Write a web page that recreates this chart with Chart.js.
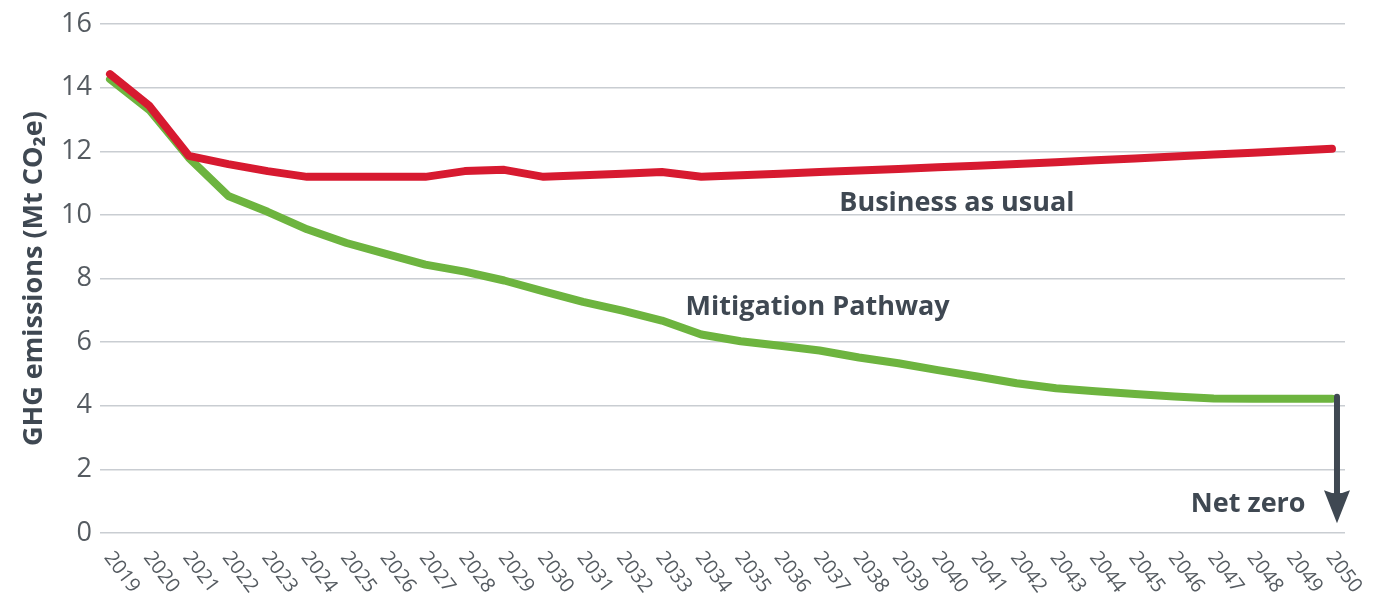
<!DOCTYPE html>
<html>
<head>
<meta charset="utf-8">
<script src="https://cdn.jsdelivr.net/npm/chart.js@4.4.1/dist/chart.umd.min.js"></script>
<style>
  html, body { margin: 0; padding: 0; background: #ffffff; }
  #wrap { width: 1385px; height: 599px; position: relative; }
</style>
</head>
<body>
<div id="wrap"><canvas id="c" width="1385" height="599"></canvas></div>
<script>
// ---- Data ----
const years = [2019,2020,2021,2022,2023,2024,2025,2026,2027,2028,2029,2030,2031,2032,2033,2034,2035,2036,2037,2038,2039,2040,2041,2042,2043,2044,2045,2046,2047,2048,2049,2050];
const businessAsUsual = [14.43,13.43,11.86,11.6,11.38,11.2,11.2,11.2,11.2,11.38,11.42,11.2,11.25,11.3,11.35,11.2,11.25,11.3,11.35,11.4,11.45,11.5,11.55,11.6,11.66,11.72,11.78,11.84,11.9,11.96,12.02,12.08];
const mitigationPathway = [14.27,13.3,11.8,10.6,10.1,9.55,9.12,8.78,8.44,8.22,7.94,7.6,7.27,6.99,6.68,6.24,6.03,5.89,5.74,5.52,5.34,5.12,4.92,4.71,4.55,4.46,4.37,4.29,4.23,4.22,4.22,4.22];
const yTicks = [0,2,4,6,8,10,12,14,16];
const yTitle = 'GHG emissions (Mt CO\u2082e)';
const seriesNames = ['Business as usual', 'Mitigation Pathway'];
const netZeroLabel = 'Net zero';

const toPoints = (vals) => vals.map((v, i) => ({ x: years[i], y: v }));

const TEXT_DARK = '#3f4852';
const TICK_COLOR = '#555b61';

const overlayPlugin = {
  id: 'overlay',
  afterDatasetsDraw(chart) {
    const ctx = chart.ctx;
    const xs = chart.scales.x, ys = chart.scales.y;
    ctx.save();
    // rotated x labels (down-right)
    ctx.fillStyle = TICK_COLOR;
    ctx.font = '20px "Open Sans"';
    ctx.textAlign = 'left';
    ctx.textBaseline = 'middle';
    years.forEach(yr => {
      const px = xs.getPixelForValue(yr);
      ctx.save();
      ctx.translate(px - 2, chart.chartArea.bottom + 21);
      ctx.rotate(53 * Math.PI / 180);
      ctx.fillText(String(yr), 0, 0);
      ctx.restore();
    });
    // series labels
    ctx.fillStyle = TEXT_DARK;
    ctx.font = 'bold 27px "Open Sans"';
    ctx.textBaseline = 'alphabetic';
    ctx.textAlign = 'left';
    ctx.fillText(seriesNames[0], xs.getPixelForValue(2037.5), ys.getPixelForValue(10.13));
    ctx.fillText(seriesNames[1], xs.getPixelForValue(2033.6), ys.getPixelForValue(6.84));
    ctx.textAlign = 'right';
    ctx.fillText(netZeroLabel, xs.getPixelForValue(2049.33), ys.getPixelForValue(0.66));
    // arrow
    const ax = xs.getPixelForValue(years[years.length - 1]) + 5;
    const y0 = ys.getPixelForValue(mitigationPathway[mitigationPathway.length - 1]) - 2;
    const yTip = ys.getPixelForValue(0.31);
    ctx.strokeStyle = TEXT_DARK;
    ctx.fillStyle = TEXT_DARK;
    ctx.lineWidth = 6;
    ctx.lineCap = 'round';
    ctx.beginPath();
    ctx.moveTo(ax, y0);
    ctx.lineTo(ax, yTip - 24);
    ctx.stroke();
    ctx.beginPath();
    ctx.moveTo(ax - 13, yTip - 33);
    ctx.quadraticCurveTo(ax, yTip - 27, ax + 13, yTip - 33);
    ctx.lineTo(ax, yTip);
    ctx.closePath();
    ctx.fill();
    ctx.restore();
  }
};

new Chart(document.getElementById('c'), {
  type: 'line',
  data: {
    datasets: [
      { label: seriesNames[0], data: toPoints(businessAsUsual), borderColor: '#d71a30', borderWidth: 8, pointRadius: 0, tension: 0, borderCapStyle: 'round', borderJoinStyle: 'round', order: 0 },
      { label: seriesNames[1], data: toPoints(mitigationPathway), borderColor: '#6db43f', borderWidth: 8, pointRadius: 0, tension: 0, borderCapStyle: 'round', borderJoinStyle: 'round', order: 1 }
    ]
  },
  options: {
    responsive: false,
    animation: false,
    events: [],
    layout: { padding: { top: 23, right: 40, bottom: 66, left: 0 } },
    plugins: { legend: { display: false }, tooltip: { enabled: false } },
    scales: {
      x: {
        type: 'linear',
        display: false,
        min: 2018.746,
        max: 2050.33
      },
      y: {
        min: 0, max: 16,
        afterBuildTicks(scale) { scale.ticks = yTicks.map(v => ({ value: v })); },
        afterFit(scale) { scale.width = 100; },
        border: { display: false },
        grid: { color: '#c9cdd2', lineWidth: 1.5, drawTicks: false },
        ticks: { color: TICK_COLOR, font: { family: 'Open Sans', size: 27 }, padding: 8 },
        title: { display: true, text: yTitle, color: TEXT_DARK, font: { family: 'Open Sans', size: 27, weight: 'bold' }, padding: { top: 18, bottom: 4 } }
      }
    }
  },
  plugins: [overlayPlugin]
});
</script>
</body>
</html>
